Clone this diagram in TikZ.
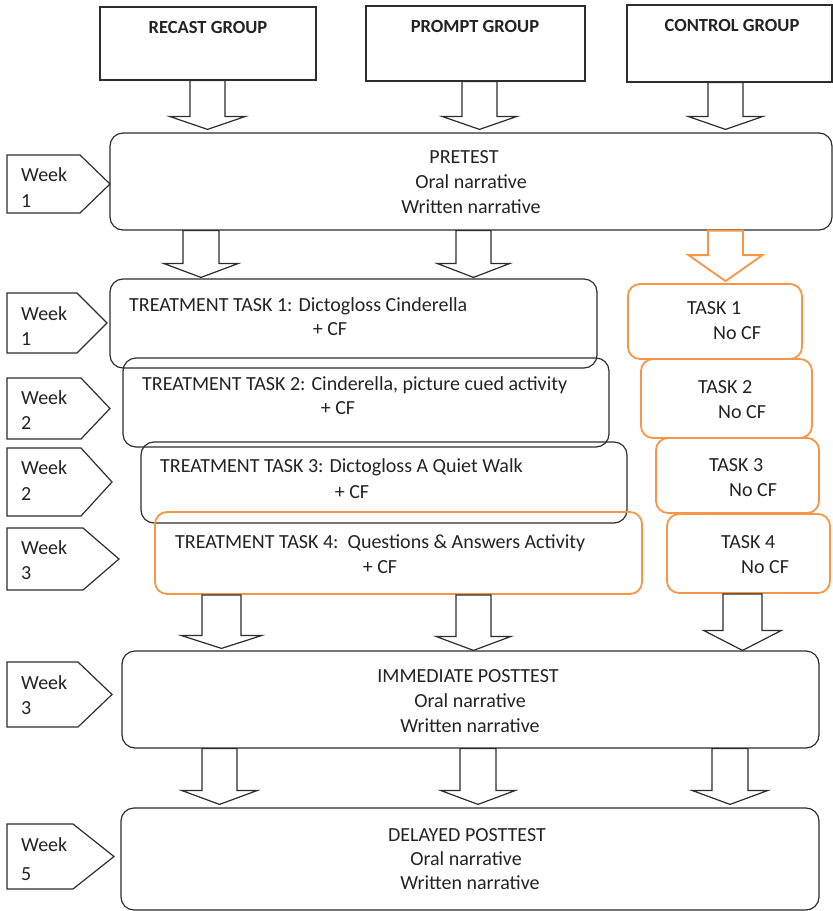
\documentclass[tikz,border=0pt]{standalone}
\usepackage{fontspec}
\setmainfont{Carlito}
\usetikzlibrary{calc,fit}
\definecolor{ink}{RGB}{35,35,35}
\definecolor{edge}{RGB}{45,45,45}
\definecolor{orng}{RGB}{247,150,70}
% block arrow: #1 style, #2 from node, #3 to node, #4 centre x, #5 half shaft, #6 half head, #7 head height, #8 gap above target
\newcommand\blockarrow[8][]{%
  \draw[barr,#1] let \p1=(#2.south), \p2=(#3.north) in
    ({(#4-#5)*1pt},\y1) -- ({(#4-#5)*1pt},{\y2+(#8+#7)*1pt}) -- ({(#4-#6)*1pt},{\y2+(#8+#7)*1pt})
    -- ({#4*1pt},{\y2+#8*1pt}) -- ({(#4+#6)*1pt},{\y2+(#8+#7)*1pt}) -- ({(#4+#5)*1pt},{\y2+(#8+#7)*1pt})
    -- ({(#4+#5)*1pt},\y1) -- cycle;}
% week pentagon: #1 top, #2 bottom, #3 shoulder x, #4 tip x
\newcommand\weekshape[4]{%
  \draw[wk] (7,#1) -- (#3,#1) -- (#4,{(#1+#2)/2}) -- (#3,#2) -- (7,#2) -- cycle;}
\begin{document}
\begin{tikzpicture}[x=1pt,y=-1pt,
  box/.style={draw=edge, line width=1.2pt, inner sep=0pt},
  rbox/.style={box, rounded corners=13pt},
  obox/.style={draw=orng, line width=1.8pt, rounded corners=12pt, inner sep=0pt},
  wk/.style={draw=edge, line width=1.2pt},
  barr/.style={draw=edge, line width=1.2pt, fill=white},
  t/.style={font=\fontsize{20}{24}\selectfont, text=ink, inner sep=0pt},
  tb/.style={font=\fontsize{18.5}{22}\selectfont\bfseries, text=ink, inner sep=0pt}]
\useasboundingbox (0,0) rectangle (833,911);

% group boxes
\node[box, fit={(100,7)(316,80)}] (recast) {};
\node[box, fit={(366,6)(585,81)}] (prompt) {};
\node[box, fit={(627,5)(832,82)}] (control) {};
\node[tb, anchor=base] (recastT) at (208,33) {RECAST GROUP};
\node[tb, anchor=base] (promptT) at (475,32) {PROMPT GROUP};
\node[tb, anchor=base] (controlT) at (732,31) {CONTROL GROUP};

% pretest
\node[rbox, fit={(110,133)(832,230)}] (pretest) {};
\node[t, anchor=base] (preA) at (464,163) {PRETEST};
\node[t, anchor=base] (preB) at (471,188) {Oral narrative};
\node[t, anchor=base] (preC) at (471,213) {Written narrative};

% treatment tasks
\node[rbox, fit={(110,279)(597,368)}] (t1) {};
\node[rbox, fit={(123,358)(609,447)}] (t2) {};
\node[rbox, fit={(141,442)(627,523)}] (t3) {};
\node[obox, fit={(155,512)(642,594)}] (t4) {};
\node[t, anchor=base west] (t1a) at (129,311) {TREATMENT TASK 1: Dictogloss Cinderella};
\node[t, anchor=base] (t1b) at (330,335) {+ CF};
\node[t, anchor=base west] (t2a) at (142,390) {TREATMENT TASK 2: Cinderella, picture cued activity};
\node[t, anchor=base] (t2b) at (338,414) {+ CF};
\node[t, anchor=base west] (t3a) at (160,472) {TREATMENT TASK 3: Dictogloss A Quiet Walk};
\node[t, anchor=base] (t3b) at (352,498) {+ CF};
\node[t, anchor=base west] (t4a) at (175,548) {TREATMENT TASK 4:\ \ Questions \& Answers Activity};
\node[t, anchor=base] (t4b) at (380,573) {+ CF};

% control tasks
\node[obox, fit={(628,284)(802,359)}] (c1) {};
\node[obox, fit={(641,359)(812,438)}] (c2) {};
\node[obox, fit={(656,438)(819,513)}] (c3) {};
\node[obox, fit={(667,514)(830,593)}] (c4) {};
\node[t, anchor=base west] (c1a) at (687,314) {TASK 1};
\node[t, anchor=base west] (c1b) at (713,339) {No CF};
\node[t, anchor=base west] (c2a) at (698,393) {TASK 2};
\node[t, anchor=base west] (c2b) at (718,418) {No CF};
\node[t, anchor=base west] (c3a) at (709,471) {TASK 3};
\node[t, anchor=base west] (c3b) at (729,496) {No CF};
\node[t, anchor=base west] (c4a) at (721,548) {TASK 4};
\node[t, anchor=base west] (c4b) at (741,573) {No CF};

% posttests
\node[rbox, fit={(122,651)(819,748)}] (imm) {};
\node[t, anchor=base] (immA) at (468,682) {IMMEDIATE POSTTEST};
\node[t, anchor=base] (immB) at (470,707) {Oral narrative};
\node[t, anchor=base] (immC) at (470,732) {Written narrative};
\node[rbox, fit={(121,808)(819,910)}] (del) {};
\node[t, anchor=base] (delA) at (467,841) {DELAYED POSTTEST};
\node[t, anchor=base] (delB) at (466,865) {Oral narrative};
\node[t, anchor=base] (delC) at (470,889) {Written narrative};

% week labels
\weekshape{155}{213}{80}{110}
\node[t, anchor=base west] (w1a) at (21,181) {Week};
\node[t, anchor=base west] (w1b) at (21,207) {1};
\weekshape{293}{353}{77}{107}
\node[t, anchor=base west] (w2a) at (21,320) {Week};
\node[t, anchor=base west] (w2b) at (21,345) {1};
\weekshape{378}{439}{81}{110}
\node[t, anchor=base west] (w3a) at (21,404) {Week};
\node[t, anchor=base west] (w3b) at (21,429) {2};
\weekshape{448}{516}{81}{112}
\node[t, anchor=base west] (w4a) at (21,474) {Week};
\node[t, anchor=base west] (w4b) at (21,500) {2};
\weekshape{528}{590}{83}{119}
\node[t, anchor=base west] (w5a) at (21,554) {Week};
\node[t, anchor=base west] (w5b) at (21,579) {3};
\weekshape{662}{727}{78}{112}
\node[t, anchor=base west] (w6a) at (21,689) {Week};
\node[t, anchor=base west] (w6b) at (21,714) {3};
\weekshape{824}{889}{73}{114}
\node[t, anchor=base west] (w7a) at (21,851) {Week};
\node[t, anchor=base west] (w7b) at (21,880) {5};

% block arrows
\blockarrow{recast}{pretest}{207.5}{17.5}{38}{13}{3}
\blockarrow{prompt}{pretest}{479.5}{17.5}{37.5}{13}{3}
\blockarrow{control}{pretest}{725.5}{17.5}{37.5}{13}{3}
\blockarrow{pretest}{t1}{201}{18}{37.5}{14}{1}
\blockarrow{pretest}{t1}{473.5}{17.5}{36.5}{14}{1}
\blockarrow[draw=orng, line width=1.8pt]{pretest}{c1}{725.5}{17.5}{37}{26}{2}
\blockarrow{t4}{imm}{221.5}{19.5}{40.5}{13}{2}
\blockarrow{t4}{imm}{473.5}{17.5}{37.5}{14}{0}
\blockarrow{c4}{imm}{742.5}{19.5}{39}{20}{0}
\blockarrow{imm}{del}{219.5}{17.5}{38}{14}{3}
\blockarrow{imm}{del}{478}{18}{37.5}{14}{3}
\blockarrow{imm}{del}{730}{18}{38}{14}{3}
\end{tikzpicture}
\end{document}
